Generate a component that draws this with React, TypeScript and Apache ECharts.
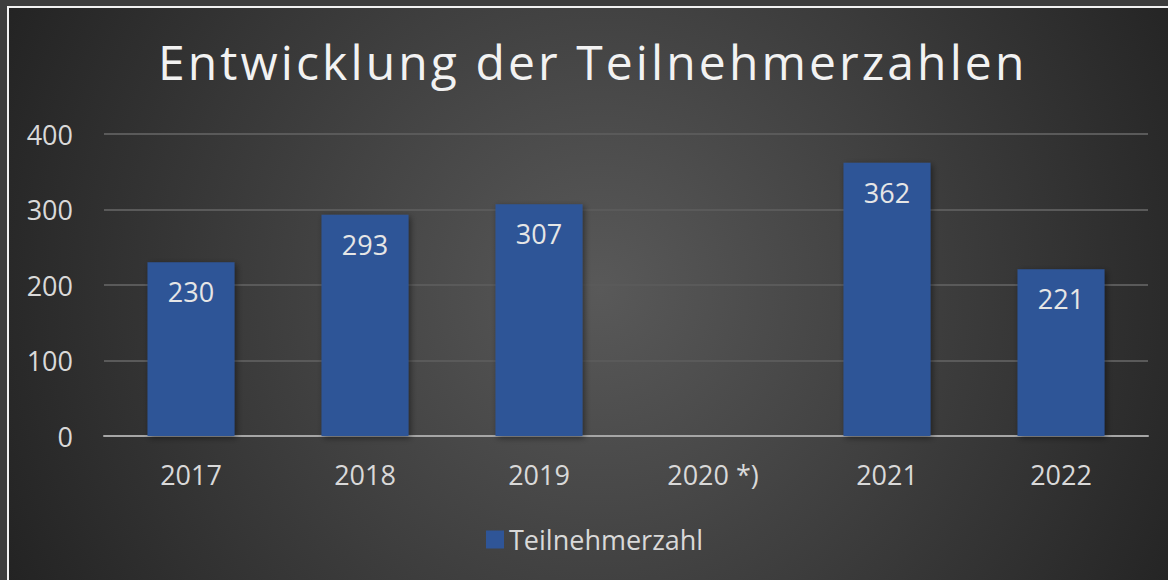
import React, { useEffect, useRef } from "react";
import * as echarts from "echarts";

const titleText = "Entwicklung der Teilnehmerzahlen";
const categories = ["2017", "2018", "2019", "2020 *)", "2021", "2022"];
const seriesName = "Teilnehmerzahl";
const values: (number | null)[] = [230, 293, 307, null, 362, 221];
const yTicks = { min: 0, max: 400, interval: 100 };

const FONT = "'Open Sans', 'Noto Sans', sans-serif";

export default function App() {
  const ref = useRef<HTMLDivElement>(null);
  useEffect(() => {
    if (!ref.current) return;
    const el = ref.current;
    const chart = echarts.init(el, undefined, { renderer: "svg" });
    const spaceTitle = () => {
      el.querySelectorAll("text").forEach((t) => {
        if (t.textContent === titleText) {
          t.setAttribute("letter-spacing", "3.1px");
        }
      });
    };
    chart.on("finished", spaceTitle);
    chart.setOption({
      animation: false,
      backgroundColor: "#3d3d3d",
      graphic: [
        {
          type: "rect",
          z: -10,
          silent: true,
          shape: { x: 8, y: 7, width: 1170, height: 580 },
          style: {
            fill: {
              type: "radial",
              x: 600,
              y: 290,
              r: 660,
              global: true,
              colorStops: [
                { offset: 0, color: "#595959" },
                { offset: 1, color: "#232323" },
              ],
            },
            stroke: "#f2f2f2",
            lineWidth: 2,
          },
        },
      ],
      title: {
        text: titleText,
        left: 153,
        top: 32,
        textStyle: {
          color: "#f2f2f2",
          fontFamily: FONT,
          fontSize: 48,
          fontWeight: "normal",
        },
      },
      legend: {
        bottom: 22,
        left: 481,
        itemWidth: 18,
        itemHeight: 18,
        itemGap: 8,
        icon: "rect",
        textStyle: { color: "#d9d9d9", fontFamily: FONT, fontSize: 27 },
        data: [seriesName],
      },
      grid: { left: 104, right: 20, top: 134, bottom: 144, containLabel: false },
      xAxis: {
        type: "category",
        data: categories,
        axisLine: { lineStyle: { color: "#a6a6a6", width: 2 } },
        axisTick: { show: false },
        axisLabel: {
          color: "#d9d9d9",
          fontFamily: FONT,
          fontSize: 27,
          margin: 25,
        },
      },
      yAxis: {
        type: "value",
        min: yTicks.min,
        max: yTicks.max,
        interval: yTicks.interval,
        axisLine: { show: false },
        axisTick: { show: false },
        splitLine: { lineStyle: { color: "#5a5a5a", width: 2 } },
        axisLabel: {
          color: "#d9d9d9",
          fontFamily: FONT,
          fontSize: 27,
          margin: 31,
        },
      },
      series: [
        {
          name: seriesName,
          type: "bar",
          data: values,
          barWidth: "50%",
          itemStyle: {
            color: "#2f5597",
            shadowColor: "rgba(0,0,0,0.45)",
            shadowBlur: 6,
            shadowOffsetX: 2,
            shadowOffsetY: 2,
          },
          label: {
            show: true,
            position: "insideTop",
            distance: 16,
            color: "#e6e6e6",
            fontFamily: FONT,
            fontSize: 27,
          },
        },
      ],
    });
    spaceTitle();
    return () => chart.dispose();
  }, []);
  return (
    <div
      ref={ref}
      style={{ position: "fixed", left: 0, top: 0, width: 1168, height: 580 }}
    />
  );
}
